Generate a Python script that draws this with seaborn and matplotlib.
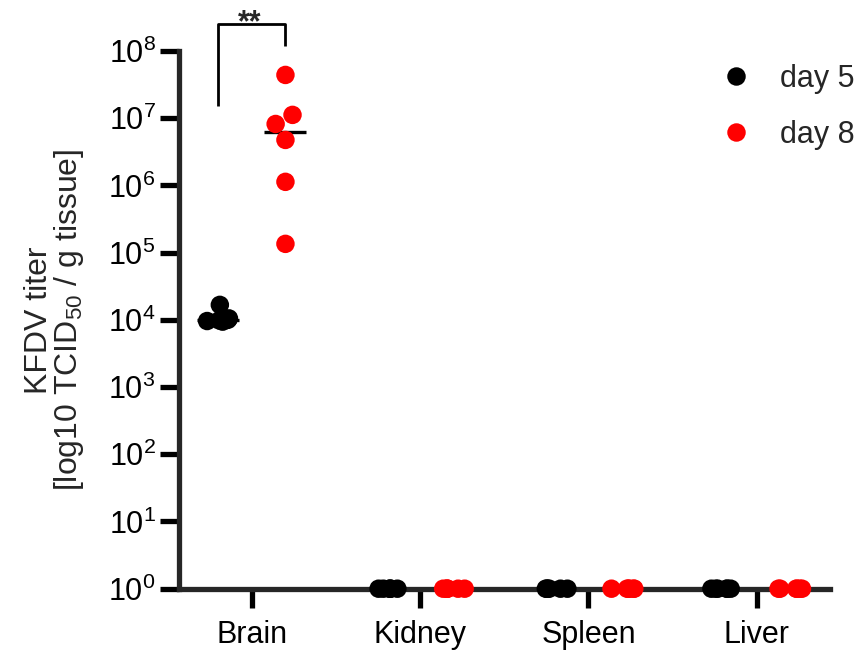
import numpy as np
import pandas as pd
import matplotlib
matplotlib.use("Agg")
import matplotlib.pyplot as plt
import seaborn as sns
from matplotlib.ticker import LogLocator, NullLocator

# ---- data ----
organs = ["Brain", "Kidney", "Spleen", "Liver"]
groups = ["day 5", "day 8"]
day5_brain = [1.67e4, 9.6e3, 1.0e4, 1.05e4, 9.4e3, 9.8e3]
day8_brain = [4.4e7, 1.12e7, 8.2e6, 4.75e6, 1.13e6, 1.35e5]
day5_kidney = [1, 1, 1, 1, 1, 1]
day8_kidney = [1, 1, 1, 1, 1, 1]
day5_spleen = [1, 1, 1, 1, 1, 1]
day8_spleen = [1, 1, 1, 1, 1, 1]
day5_liver = [1, 1, 1, 1, 1, 1]
day8_liver = [1, 1, 1, 1, 1, 1]
colors = {"day 5": "#000000", "day 8": "#FF0000"}
sig_label = "**"
sig_bracket_y = [1.52e7, 2.53e8, 2.53e8, 1.19e8]

series = {
    ("Brain", "day 5"): day5_brain, ("Brain", "day 8"): day8_brain,
    ("Kidney", "day 5"): day5_kidney, ("Kidney", "day 8"): day8_kidney,
    ("Spleen", "day 5"): day5_spleen, ("Spleen", "day 8"): day8_spleen,
    ("Liver", "day 5"): day5_liver, ("Liver", "day 8"): day8_liver,
}
rows = []
for (org, grp), vals in series.items():
    for v in vals:
        rows.append({"organ": org, "group": grp, "titer": v})
df = pd.DataFrame(rows)
spread = (df["organ"] == "Brain") & (df["group"] == "day 8")


# pick a jitter seed whose draws spread evenly inside each group (layout only)
def even_seed(n_groups, n_per):
    fallback = None
    for s in range(300000):
        np.random.seed(s)
        u = np.random.uniform(-1, 1, n_groups * n_per).reshape(n_groups, n_per)
        if not (u[0].min() < -0.75 and u[0].max() > 0.75):
            continue
        ok_span = (u.min(axis=1) < -0.55).all() and (u.max(axis=1) > 0.55).all()
        if not ok_span:
            continue
        if fallback is None:
            fallback = s
        gaps = np.diff(np.sort(u, axis=1), axis=1).max(axis=1)
        if (gaps < 0.6).all():
            return s
    return fallback if fallback is not None else 0


sns.set_theme(style="ticks")
plt.rcParams["font.family"] = ["Liberation Sans", "DejaVu Sans"]
plt.rcParams["mathtext.default"] = "regular"

fig = plt.figure(figsize=(8.6, 6.51), dpi=100)
ax = fig.add_axes([0.2076, 0.0957, 0.7576, 0.826])
ax.set_yscale("log")

common = dict(x="organ", y="titer", hue="group", order=organs,
              hue_order=groups, palette=colors, dodge=True, size=13.3,
              linewidth=0, ax=ax, zorder=5)
n_strip_groups = df[~spread].groupby(["organ", "group"]).ngroups
np.random.seed(even_seed(n_strip_groups, 6))
sns.stripplot(data=df[~spread], jitter=0.15, **common)
sns.swarmplot(data=df[spread], legend=False, **common)
sns.pointplot(data=df, x="organ", y="titer", hue="group", order=organs,
              hue_order=groups, palette={"day 5": "black", "day 8": "black"},
              estimator="median", errorbar=None, dodge=0.4, markers="_",
              markersize=30, markeredgewidth=2.4, linestyle="none",
              legend=False, ax=ax)
for coll in ax.collections:
    coll.set_clip_on(False)
for ln in ax.lines:
    ln.set_clip_on(False)

ax.set_ylim(1, 1e8)
ax.set_xlim(-0.435, 3.435)
ax.yaxis.set_major_locator(LogLocator(base=10, numticks=20))
ax.yaxis.set_minor_locator(NullLocator())
sns.despine(ax=ax)
for s in ["left", "bottom"]:
    ax.spines[s].set_linewidth(3.8)
ax.tick_params(axis="both", length=14, width=3.8, labelsize=22, color="black",
               labelcolor="black")
ax.tick_params(axis="x", pad=8.5)
ax.tick_params(axis="y", pad=2.5)
ax.set_xlabel("")
ax.set_ylabel("KFDV titer\n[log10 TCID$_{50}$ / g tissue]", fontsize=23,
              labelpad=16, linespacing=0.9)

# significance bracket
ax.plot([-0.2, -0.2, 0.2, 0.2], sig_bracket_y, color="black",
        lw=2.0, clip_on=False, solid_capstyle="butt")
ax.text(-0.01, 1.99e8, sig_label, ha="center", va="baseline", fontsize=22,
        fontweight="bold")

handles, labels = ax.get_legend_handles_labels()
leg = ax.legend(handles[:2], labels[:2], loc="upper left", frameon=False,
                bbox_to_anchor=(0.838, 0.9017), bbox_transform=fig.transFigure,
                fontsize=22, handlelength=1.0, handletextpad=0.94,
                labelspacing=0.85, borderpad=0, borderaxespad=0)

fig.savefig("out.png", dpi=100)
